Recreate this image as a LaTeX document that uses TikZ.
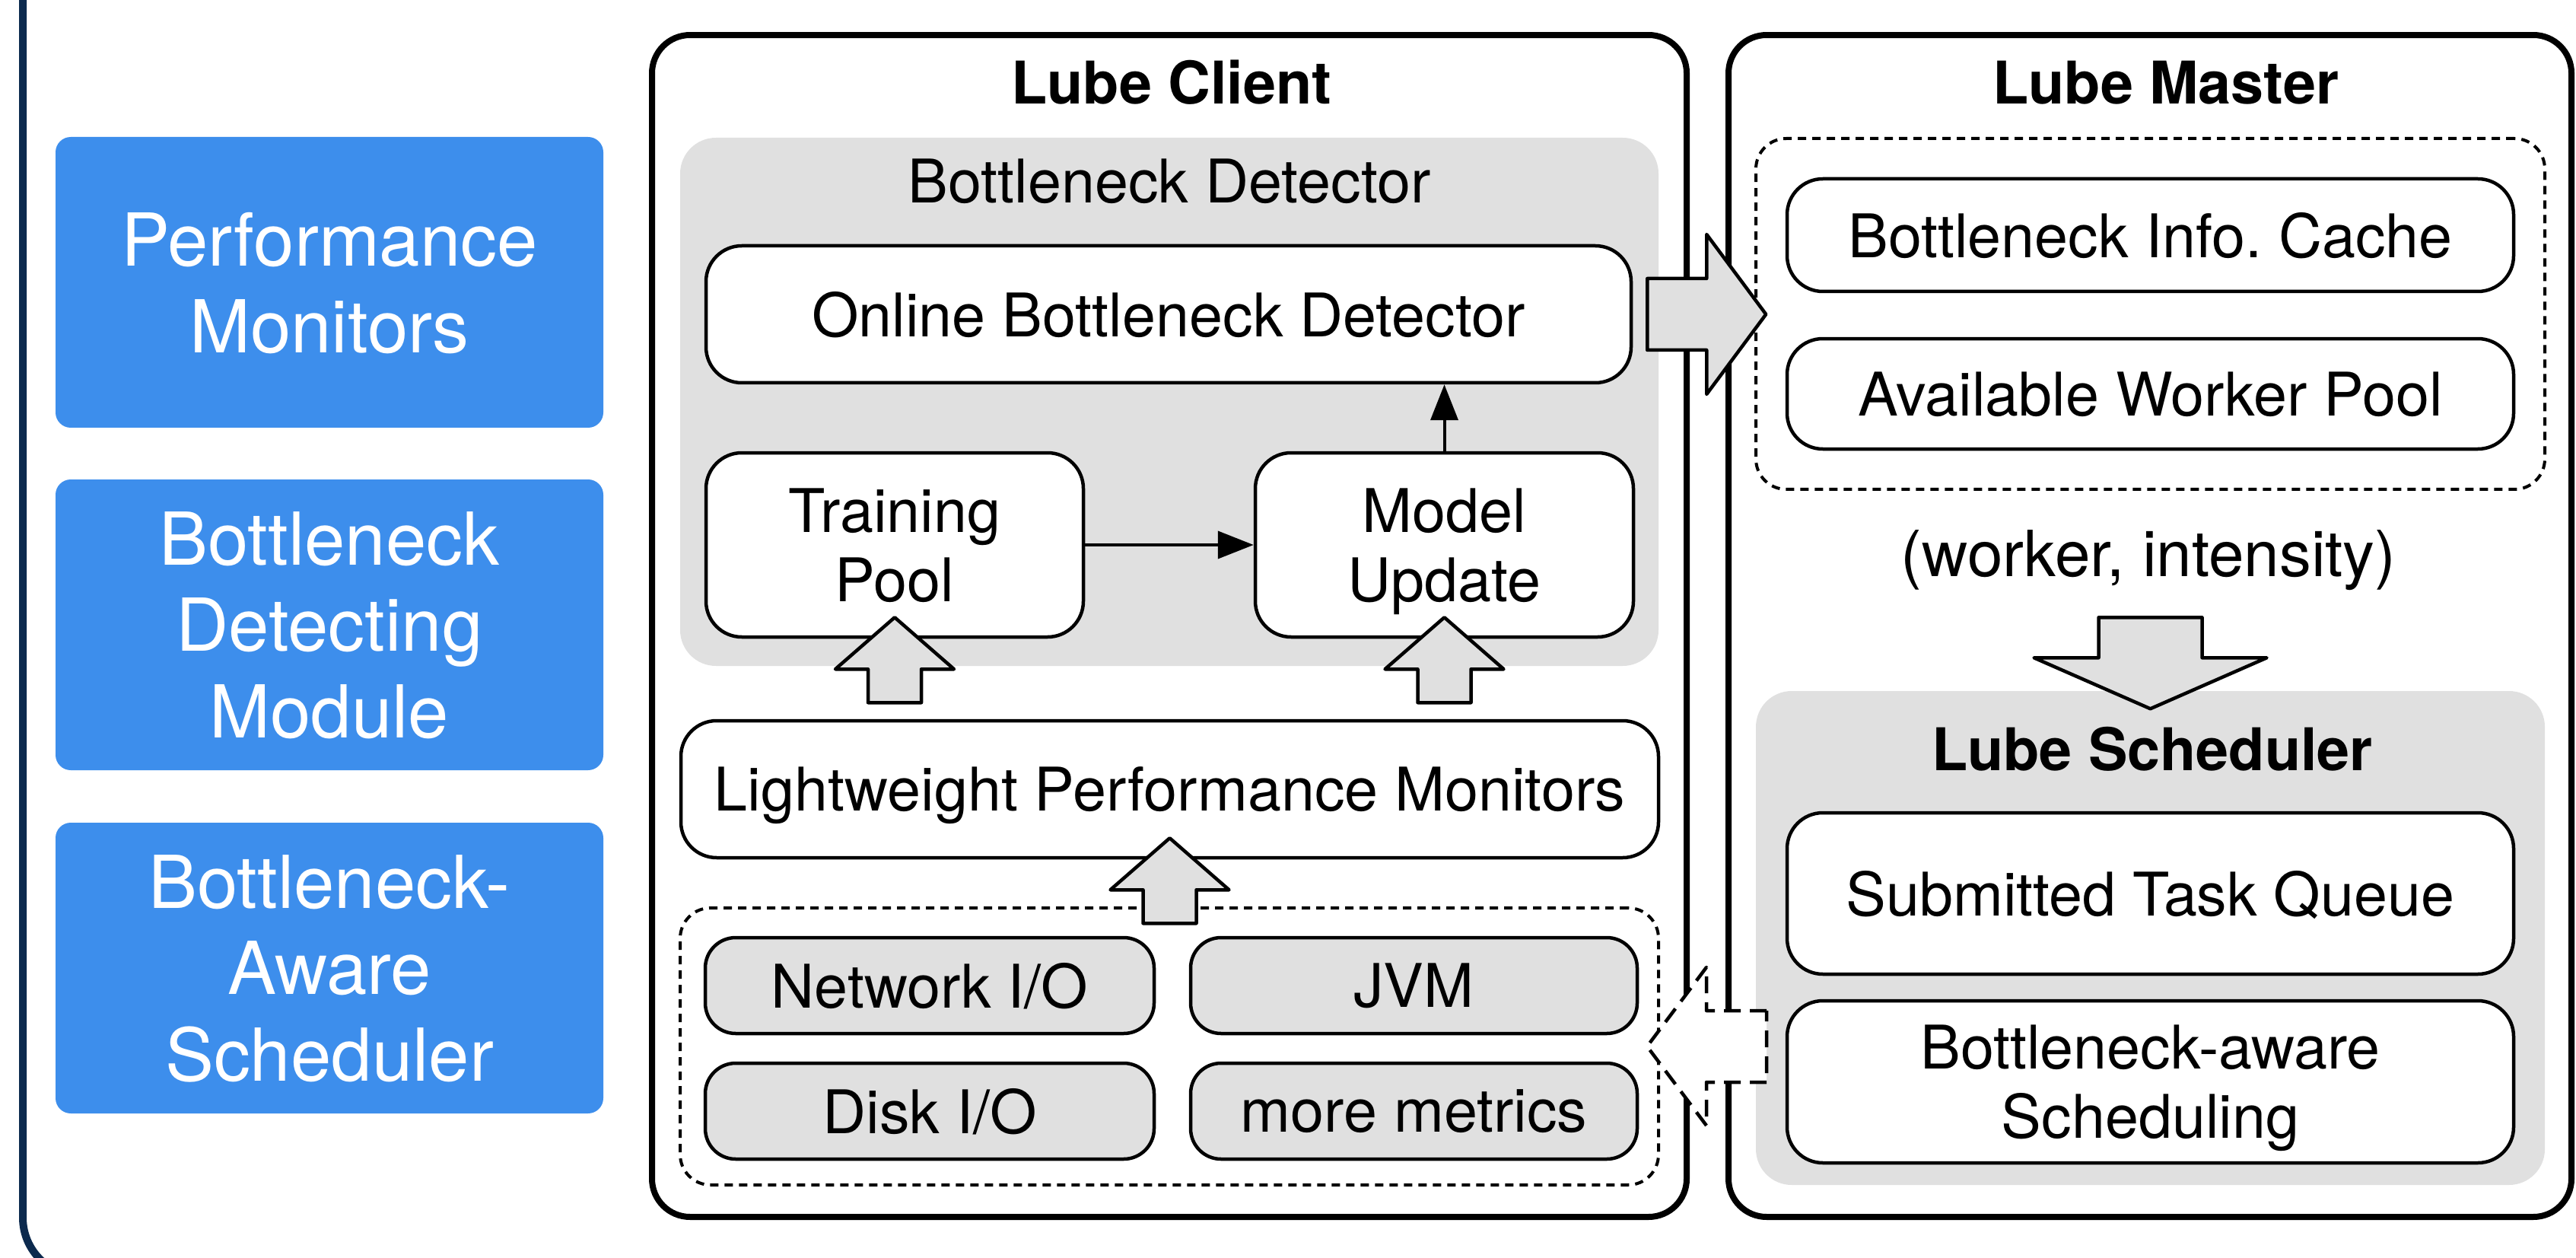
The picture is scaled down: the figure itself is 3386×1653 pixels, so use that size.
\documentclass[tikz,border=0pt]{standalone}
\usepackage{fontspec}
\setmainfont{TeX Gyre Heros}
\usepackage{tikz}
\usetikzlibrary{arrows.meta}

\definecolor{navy}{RGB}{12,42,78}
\definecolor{lubeblue}{RGB}{61,142,236}
\definecolor{panelgray}{RGB}{224,224,224}

\tikzset{
    txt/.style={font=\fontsize{22.5}{25.9}\selectfont},
    titletext/.style={font=\fontsize{22}{25.9}\selectfont\bfseries},
    role/.style={fill=lubeblue, text=white, rounded corners=2mm, minimum width=72mm, minimum height=38.2mm,
        align=center, text depth=0pt, inner sep=0pt, font=\fontsize{27.3}{32.4}\selectfont},
    tier/.style={draw, line width=0.8mm, rounded corners=5mm},
    panel/.style={fill=panelgray, rounded corners=4.7mm},
    box/.style={draw, fill=white, line width=0.45mm, rounded corners=4.7mm, align=center,
        text depth=0pt, inner sep=0pt, txt},
    metric/.style={box, fill=panelgray, rounded corners=4mm},
    dashgroup/.style={draw, line width=0.4mm, dash pattern=on 1.1mm off 0.8mm, rounded corners=4mm},
    blockarrow/.style={draw, fill=panelgray, line width=0.45mm, line join=round},
    link/.style={-{Triangle[length=4.7mm, width=3.6mm]}, line width=0.4mm},
    % hollow arrows, drawn at the anchor of the box they point into / leave
    liftarrow/.pic={\path[blockarrow] (0,-28) -- (78,40) -- (35,40) -- (35,84) -- (-35,84) -- (-35,40) -- (-78,40) -- cycle;},
    pusharrow/.pic={\path[blockarrow] (19,-47) -- (97,-47) -- (97,-105) -- (175,0) -- (97,105) -- (97,47) -- (19,47) -- cycle;},
    droparrow/.pic={\path[blockarrow] (-68,-96) -- (68,-96) -- (68,-43) -- (153,-43) -- (0,24) -- (-153,-43) -- (-68,-43) -- cycle;},
    feedarrow/.pic={\path[blockarrow, fill=white, line width=0.45mm, dash pattern=on 2.2mm off 1.2mm]
        (140,-47) -- (61,-47) -- (61,-104) -- (-17,0) -- (61,104) -- (61,47) -- (140,47) -- cycle;},
}

\begin{document}
\begin{tikzpicture}[x=0.1mm, y=-0.1mm]
    \useasboundingbox (0, 0) rectangle (3386, 1653);
    \begin{scope}
        \clip (0, 0) rectangle (3386, 1653);
        \draw[navy, line width=1mm, rounded corners=7.7mm] (30, -200) rectangle (3700, 1677);
    \end{scope}

    % left column
    \node[role] (perf) at (433, 371) {Performance\\Monitors};
    \node[role] (detect) at (433, 821) {Bottleneck\\Detecting\\Module};
    \node[role] (aware) at (433, 1272) {Bottleneck-\\Aware\\Scheduler};

    % Lube Client
    \node[tier, minimum width=136mm, minimum height=155.3mm] (client) at (1537, 822.5) {};
    \node[titletext, anchor=base] (clienttitle) at (1540, 137) {Lube Client};
    \node[panel, minimum width=128.6mm, minimum height=69.4mm] (detector) at (1537, 528) {};
    \node[txt, anchor=base] (detectortitle) at (1537, 267) {Bottleneck Detector};
    \node[box, minimum width=121.6mm, minimum height=18mm] (online) at (1536, 413) {Online Bottleneck Detector};
    \node[box, minimum width=49.6mm, minimum height=24.2mm] (training) at (1176, 716) {Training\\Pool};
    \node[box, minimum width=49.7mm, minimum height=24.2mm] (model) at (1898.5, 716) {Model\\Update};
    \node[box, minimum width=128.5mm, minimum height=18mm] (monitors) at (1537.5, 1037) {Lightweight Performance Monitors};
    \node[dashgroup, minimum width=128.6mm, minimum height=36.4mm] (metrics) at (1537, 1375) {};
    \node[metric, minimum width=59mm, minimum height=12.6mm] (net) at (1222, 1295) {Network I/O};
    \node[metric, minimum width=58.7mm, minimum height=12.6mm] (jvm) at (1858.5, 1295) {JVM};
    \node[metric, minimum width=59mm, minimum height=12.6mm] (disk) at (1222, 1460) {Disk I/O};
    \node[metric, minimum width=58.7mm, minimum height=12.6mm] (more) at (1858.5, 1460) {more metrics};

    % Lube Master
    \node[tier, minimum width=110.8mm, minimum height=155.3mm] (master) at (2826, 822.5) {};
    \node[titletext, anchor=base] (mastertitle) at (2847, 137) {Lube Master};
    \node[dashgroup, minimum width=103.7mm, minimum height=46.1mm] (state) at (2826.5, 412.5) {};
    \node[box, minimum width=95.5mm, minimum height=14.8mm] (cache) at (2826.5, 309) {Bottleneck Info.\ Cache};
    \node[box, minimum width=95.5mm, minimum height=14.5mm] (workers) at (2826.5, 517.5) {Available Worker Pool};
    \node[txt, anchor=base, font=\fontsize{23.8}{26}\selectfont] (pair) at (2824, 757) {(worker, intensity)};
    \node[panel, minimum width=103.7mm, minimum height=64.9mm] (scheduler) at (2826.5, 1232.5) {};
    \node[titletext, anchor=base] (schedulertitle) at (2829, 1012) {Lube Scheduler};
    \node[box, minimum width=95.5mm, minimum height=21.2mm] (queue) at (2826.5, 1174) {Submitted Task Queue};
    \node[box, minimum width=95.5mm, minimum height=21.3mm] (scheduling) at (2826.5, 1421.5) {Bottleneck-aware\\Scheduling};

    \draw[link] (training) -- (model);
    \draw[link] (model.north) -- (model.north |- online.south);

    \pic at (training.south) {liftarrow};
    \pic at (model.south) {liftarrow};
    \pic at (monitors.south) {liftarrow};
    \pic at (online.east) {pusharrow};
    \pic at (scheduler.north) {droparrow};
    \pic at (metrics.east) {feedarrow};
\end{tikzpicture}
\end{document}
